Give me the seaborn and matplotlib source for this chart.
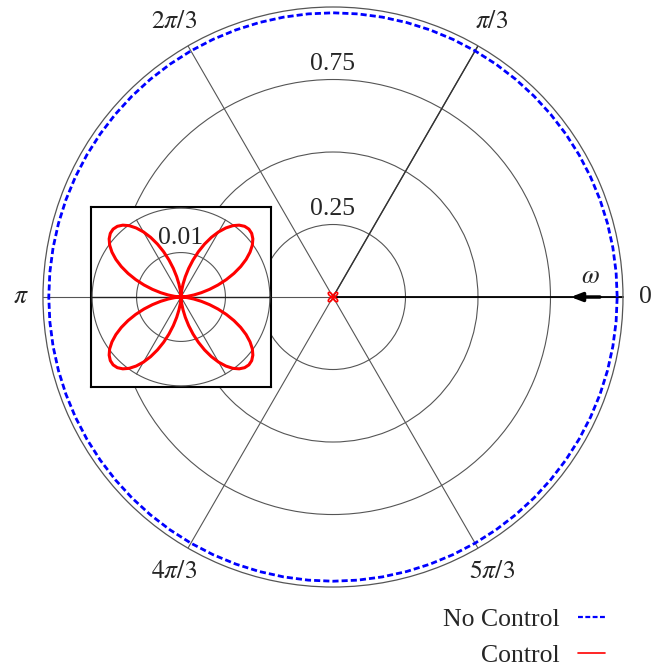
import numpy as np
import pandas as pd
import matplotlib
matplotlib.use("Agg")
import matplotlib.pyplot as plt
import seaborn as sns
from matplotlib.lines import Line2D

# ---------------- data ----------------
# "No Control": constant radius circle
NO_CONTROL_THETA_DEG = list(range(0, 361, 5))
NO_CONTROL_R = [0.98] * len(NO_CONTROL_THETA_DEG)

# "Control": one lobe of the four-leaf curve (angle within a quadrant, radius)
LOBE_THETA_DEG = [0, 3, 6, 9, 12, 15, 18, 21, 24, 27, 30, 33, 36, 39, 42, 45,
                  48, 51, 54, 57, 60, 63, 66, 69, 72, 75, 78, 81, 84, 87, 90]
LOBE_R = [0.0, 0.00046, 0.0015, 0.00293, 0.00468, 0.00665, 0.00875, 0.01091,
          0.01304, 0.01507, 0.01692, 0.01852, 0.01984, 0.0208, 0.0214, 0.0216,
          0.0214, 0.0208, 0.01984, 0.01852, 0.01692, 0.01507, 0.01304, 0.01091,
          0.00875, 0.00665, 0.00468, 0.00293, 0.0015, 0.00046, 0.0]
QUADRANT_OFFSETS_DEG = [0, 90, 180, 270]

MAIN_RINGS = [0.25, 0.5, 0.75]
MAIN_RING_LABELS = ["0.25", "0.75"]
MAIN_RING_LABEL_R = [0.25, 0.75]
SPOKES_DEG = [0, 60, 120, 180, 240, 300]
SPOKE_LABELS = ["0", r"$\pi/3$", r"$2\pi/3$", r"$\pi$", r"$4\pi/3$", r"$5\pi/3$"]
INSET_RINGS = [0.01, 0.02]
INSET_LABEL = "0.01"
SERIES_NAMES = ["No Control", "Control"]

# ---------------- tables ----------------
df_nc = pd.DataFrame({"theta": np.deg2rad(NO_CONTROL_THETA_DEG), "r": NO_CONTROL_R})
ctl_theta, ctl_r = [], []
for off in QUADRANT_OFFSETS_DEG:
    ctl_theta += [t + off for t in LOBE_THETA_DEG]
    ctl_r += LOBE_R
df_ctl = pd.DataFrame({"theta": np.deg2rad(ctl_theta), "r": ctl_r})

# ---------------- style ----------------
sns.set_style("white")
plt.rcParams["font.family"] = ["Liberation Serif", "DejaVu Serif"]
plt.rcParams["mathtext.fontset"] = "stix"
FS = 18.5
GRID = "#555555"

fig = plt.figure(figsize=(6.52, 6.67), dpi=100)

# ---------------- main polar axes ----------------
ax = fig.add_axes([0.0659, 0.1199, 0.8896, 0.8696], projection="polar")
ax.set_zorder(1)
ax.set_ylim(0, 1)
ax.set_rgrids(MAIN_RINGS, labels=[""] * len(MAIN_RINGS))
ax.set_thetagrids(SPOKES_DEG, labels=[""] * len(SPOKES_DEG))
ax.grid(True, color=GRID, lw=0.8)
ax.spines["polar"].set_color(GRID)
ax.spines["polar"].set_linewidth(0.9)

# darker spoke at pi/3 and black zero-direction line
ax.plot([np.deg2rad(60)] * 2, [0, 1], color="#333333", lw=1.0, zorder=2)
ax.plot([0, 0], [0, 1], color="black", lw=1.3, zorder=2)

sns.lineplot(data=df_nc, x="theta", y="r", sort=False, estimator=None, ax=ax,
             color="#0000ff", lw=2.0, linestyle=(0, (2.2, 1.1)), zorder=3)
sns.lineplot(data=df_ctl, x="theta", y="r", sort=False, estimator=None, ax=ax,
             color="#ff0000", lw=1.2, zorder=4)
ax.set_xlabel("")
ax.set_ylabel("")

for lab, r in zip(MAIN_RING_LABELS, MAIN_RING_LABEL_R):
    ax.text(np.pi / 2, r + 0.053, lab, ha="center", va="center", fontsize=FS)

for ang, lab in zip(SPOKES_DEG, SPOKE_LABELS):
    rr = 1.077 if ang in (0, 180) else 1.095
    ax.text(np.deg2rad(ang), rr, lab, ha="center", va="center", fontsize=FS)

ax.annotate("", xy=(0, 0.81), xytext=(0, 0.93),
            arrowprops=dict(arrowstyle="-|>,head_length=0.65,head_width=0.25",
                            color="black", lw=2.5), zorder=5)
ax.text(np.deg2rad(4.4), 0.89, r"$\omega$", ha="center", va="center", fontsize=FS)

# ---------------- inset ----------------
box = fig.add_axes([91 / 652, (667 - 387) / 667, 180 / 652, 180 / 667])
box.set_zorder(2)
box.set_xticks([])
box.set_yticks([])
box.set_facecolor("white")
for sp in box.spines.values():
    sp.set_visible(True)
    sp.set_color("black")
    sp.set_linewidth(1.5)

inax = fig.add_axes([(181 - 100) / 652, (370 - 100) / 667, 200 / 652, 200 / 667],
                    projection="polar")
inax.set_zorder(3)
inax.patch.set_alpha(0)
inax.set_ylim(0, 0.0225)
inax.spines["polar"].set_visible(False)
inax.grid(False)
inax.set_xticks([])
inax.set_yticks([])

circ = np.linspace(0, 2 * np.pi, 361)
for rr in INSET_RINGS:
    inax.plot(circ, np.full_like(circ, rr), color=GRID, lw=0.8)
for ang in SPOKES_DEG:
    if ang in (0, 180):
        inax.plot([np.deg2rad(ang)] * 2, [0, 0.0202], color="#222222", lw=1.0)
    else:
        inax.plot([np.deg2rad(ang)] * 2, [0, 0.02], color=GRID, lw=0.8)

sns.lineplot(data=df_ctl, x="theta", y="r", sort=False, estimator=None, ax=inax,
             color="#ff0000", lw=2.2, zorder=4)
inax.set_xlabel("")
inax.set_ylabel("")
inax.set_ylim(0, 0.0225)
inax.text(np.pi / 2, 0.0133, INSET_LABEL, ha="center", va="center", fontsize=FS)

# ---------------- legend ----------------
handles = [Line2D([], [], color="#0000ff", lw=1.6, linestyle=(0, (2.2, 1.1))),
           Line2D([], [], color="#ff0000", lw=1.2)]
fig.legend(handles, SERIES_NAMES, loc="lower right",
           bbox_to_anchor=(605 / 652, 0.0), frameon=False, markerfirst=False,
           fontsize=FS, handlelength=1.05, handletextpad=0.7, labelspacing=0.5,
           borderpad=0.0, borderaxespad=0.0)

fig.savefig("out.png", dpi=100)
